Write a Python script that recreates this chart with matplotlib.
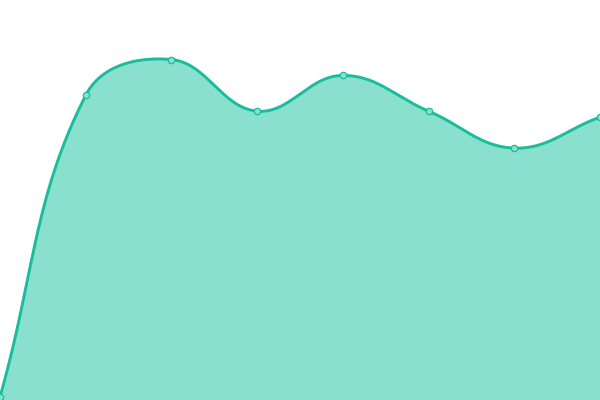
import numpy as np
import matplotlib.pyplot as plt

# data
categories = [0, 1, 2, 3, 4, 5, 6, 7]
values = [0, 76, 85, 72, 81, 72, 62.7, 70.5]

line_color = '#1abc9c'
fill_color = '#89e0cf'
tension = 0.4


def spline_path(px, py, t=tension, n=60, box=None):
    # bezier spline with tension, control points built in pixel space
    pts = np.column_stack([px, py])
    k = len(pts)
    c_prev = np.zeros_like(pts)
    c_next = np.zeros_like(pts)
    for i in range(k):
        prev = pts[max(i - 1, 0)]
        cur = pts[i]
        nxt = pts[min(i + 1, k - 1)]
        d01 = np.hypot(*(cur - prev))
        d12 = np.hypot(*(nxt - cur))
        s01 = d01 / (d01 + d12) if d01 + d12 else 0
        s12 = d12 / (d01 + d12) if d01 + d12 else 0
        c_prev[i] = cur - t * s01 * (nxt - prev)
        c_next[i] = cur + t * s12 * (nxt - prev)
    if box is not None:
        x0, x1, y0, y1 = box
        for c in (c_prev, c_next):
            c[:, 0] = np.clip(c[:, 0], x0, x1)
            c[:, 1] = np.clip(c[:, 1], y0, y1)
    out = []
    u = np.linspace(0, 1, n)[:, None]
    for i in range(k - 1):
        p0, p1, p2, p3 = pts[i], c_next[i], c_prev[i + 1], pts[i + 1]
        out.append((1 - u)**3 * p0 + 3 * (1 - u)**2 * u * p1 + 3 * (1 - u) * u**2 * p2 + u**3 * p3)
    return np.vstack(out)


fig = plt.figure(figsize=(6, 4), dpi=100)
ax = fig.add_axes([0, 0, 1, 1])
lo = -0.76
ax.set_xlim(0, 7)
ax.set_ylim(lo, 100)
ax.axis('off')

pix = ax.transData.transform(np.column_stack([categories, values]))
bb = ax.bbox
curve = spline_path(pix[:, 0], pix[:, 1], box=(bb.x0, bb.x1, bb.y0, bb.y1))
curve = ax.transData.inverted().transform(curve)
xs, ys = curve[:, 0], curve[:, 1]

ax.fill_between(xs, ys, lo, color=fill_color, linewidth=0)
ax.plot(xs, ys, color=line_color, linewidth=2.1, solid_capstyle='round', clip_on=False)
ax.plot(categories, values, linestyle='none', marker='o', markersize=4.6,
        markerfacecolor=fill_color, markeredgecolor=line_color, markeredgewidth=0.9, clip_on=True)

plt.savefig('out.png', dpi=100)
